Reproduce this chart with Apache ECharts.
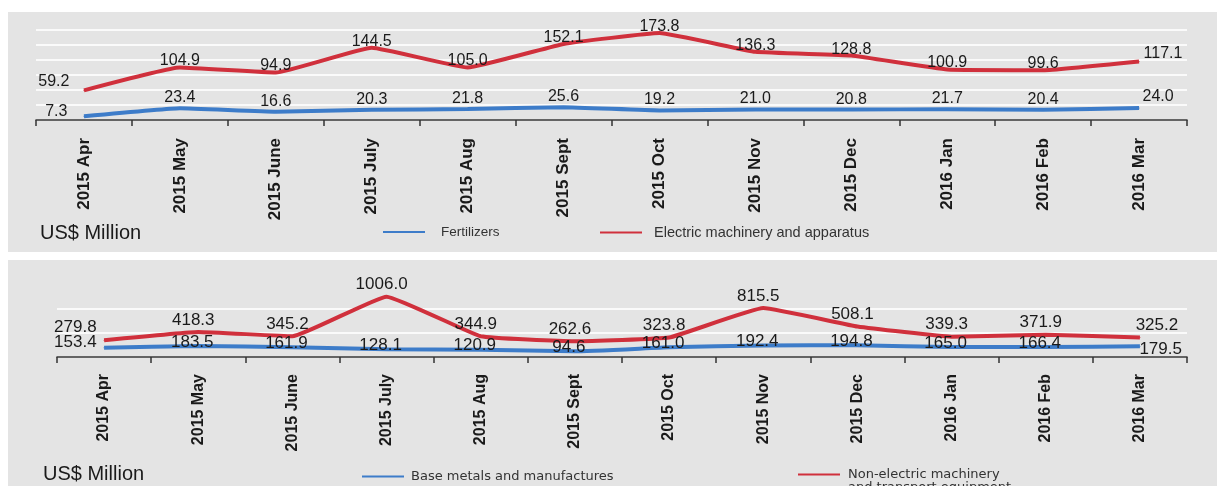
<!DOCTYPE html>
<html>
<head>
<meta charset="utf-8">
<script src="https://cdn.jsdelivr.net/npm/echarts@6/dist/echarts.min.js"></script>
<style>
  html, body { margin: 0; padding: 0; background: #fff; }
  #chart { width: 1217px; height: 486px; }
</style>
</head>
<body>
<div id="chart"></div>
<script>
const months = ['2015 Apr', '2015 May', '2015 June', '2015 July', '2015 Aug', '2015 Sept',
  '2015 Oct', '2015 Nov', '2015 Dec', '2016 Jan', '2016 Feb', '2016 Mar']

// top panel
const fertilizers = [7.3, 23.4, 16.6, 20.3, 21.8, 25.6, 19.2, 21.0, 20.8, 21.7, 20.4, 24.0]
const electricMachinery = [59.2, 104.9, 94.9, 144.5, 105.0, 152.1, 173.8, 136.3, 128.8, 100.9, 99.6, 117.1]

// bottom panel
const baseMetals = [153.4, 183.5, 161.9, 128.1, 120.9, 94.6, 161.0, 192.4, 194.8, 165.0, 166.4, 179.5]
const nonElectricMachinery = [279.8, 418.3, 345.2, 1006.0, 344.9, 262.6, 323.8, 815.5, 508.1, 339.3, 371.9, 325.2]

const RED = '#d0303c'
const BLUE = '#3d7cc9'
const FONT = '"Liberation Sans", Arial, sans-serif'
const WIDE = '"DejaVu Sans", sans-serif'

// first and last labels sit beside the line end, the rest follow the series label
function withEdgeLabels(values, first, last) {
  return values.map((v, i) => {
    if (i === 0) return { value: v, label: first }
    if (i === values.length - 1) return { value: v, label: last }
    return v
  })
}

function lineSeries(name, color, values, axis, fontSize, mid, first, last) {
  return {
    name: name,
    type: 'line',
    xAxisIndex: axis,
    yAxisIndex: axis,
    data: withEdgeLabels(values, first, last),
    smooth: 0.1,
    symbol: 'circle',
    symbolSize: 1,
    itemStyle: { color: color },
    lineStyle: { color: color, width: 4 },
    label: Object.assign({
      show: true,
      color: '#1a1a1a',
      fontFamily: FONT,
      fontSize: fontSize,
      formatter: p => p.value.toFixed(1)
    }, mid),
    emphasis: { disabled: true }
  }
}

function catAxis(idx, fontSize, margin) {
  return {
    type: 'category',
    gridIndex: idx,
    data: months,
    boundaryGap: true,
    axisLine: { lineStyle: { color: '#333', width: 1.5 } },
    axisTick: { show: true, length: 6, lineStyle: { color: '#333', width: 1.5 } },
    axisLabel: {
      rotate: 90,
      margin: margin,
      interval: 0,
      color: '#1a1a1a',
      fontFamily: FONT,
      fontWeight: 'bold',
      fontSize: fontSize
    },
    splitLine: { show: false }
  }
}

function legendItem(name, left, top, fontSize, family, padLeft) {
  return {
    data: [name],
    left: left,
    top: top,
    padding: 0,
    icon: 'rect',
    itemWidth: 42,
    itemHeight: 2,
    selectedMode: false,
    textStyle: {
      color: '#333',
      fontFamily: family,
      fontSize: fontSize,
      lineHeight: 13,
      padding: [0, 0, 0, padLeft]
    }
  }
}

const chart = echarts.init(document.getElementById('chart'))

// two-line legend name: a blank leading line keeps the marker beside the first line
const nonElectricLegend = legendItem('Non-electric machinery\nand transport equipment', 798, 455, 13, WIDE, 3)
nonElectricLegend.formatter = name => '\n' + name

chart.setOption({
  backgroundColor: '#fff',
  animation: false,
  graphic: [
    { type: 'rect', z: -10, shape: { x: 8, y: 12, width: 1209, height: 240 }, style: { fill: '#e4e4e4' } },
    { type: 'rect', z: -10, shape: { x: 8, y: 260, width: 1209, height: 230 }, style: { fill: '#e4e4e4' } }
  ],
  title: [
    { text: 'US$ Million', left: 40, top: 223, padding: 0,
      textStyle: { fontFamily: FONT, fontSize: 20, fontWeight: 'normal', color: '#1a1a1a' } },
    { text: 'US$ Million', left: 43, top: 464, padding: 0,
      textStyle: { fontFamily: FONT, fontSize: 20, fontWeight: 'normal', color: '#1a1a1a' } }
  ],
  legend: [
    legendItem('Fertilizers', 383, 225, 13.5, FONT, 11),
    legendItem('Electric machinery and apparatus', 600, 225, 14.5, FONT, 7),
    legendItem('Base metals and manufactures', 362, 470, 13, WIDE, 2),
    nonElectricLegend
  ],
  grid: [
    { left: 36, right: 30, top: 30, height: 90 },
    { left: 57, right: 30, top: 285, height: 72 }
  ],
  xAxis: [catAxis(0, 17, 18), catAxis(1, 16, 17)],
  yAxis: [
    {
      type: 'value', gridIndex: 0, min: 0, max: 180, interval: 30,
      axisLabel: { show: false }, axisLine: { show: false }, axisTick: { show: false },
      splitLine: { lineStyle: { color: '#fafafa', width: 2 } }
    },
    {
      type: 'value', gridIndex: 1, min: 0, max: 1200, interval: 400,
      axisLabel: { show: false }, axisLine: { show: false }, axisTick: { show: false },
      splitLine: { lineStyle: { color: ['#fafafa', '#fafafa', '#fafafa', 'rgba(0,0,0,0)'], width: 2 } }
    }
  ],
  series: [
    lineSeries('Fertilizers', BLUE, fertilizers, 0, 16,
      { position: 'top', distance: 2 },
      { position: 'left', distance: 16, offset: [0, -5] },
      { position: 'right', distance: 3, offset: [0, -11] }),
    lineSeries('Electric machinery and apparatus', RED, electricMachinery, 0, 16,
      { position: 'top', distance: 1, offset: [0, 3] },
      { position: 'left', distance: 14, offset: [0, -9] },
      { position: 'right', distance: 4, offset: [0, -8] }),
    lineSeries('Base metals and manufactures', BLUE, baseMetals, 1, 17,
      { position: 'inside', offset: [-6, -4] },
      { position: 'left', distance: 7, offset: [0, -5] },
      { position: 'right', distance: -1, offset: [0, 3] }),
    lineSeries('Non-electric machinery\nand transport equipment', RED, nonElectricMachinery, 1, 17,
      { position: 'top', distance: 3, offset: [-5, 0] },
      { position: 'left', distance: 7, offset: [0, -13] },
      { position: 'top', distance: 3, offset: [17, 0] })
  ]
})

window.addEventListener('resize', () => chart.resize())
</script>
</body>
</html>
